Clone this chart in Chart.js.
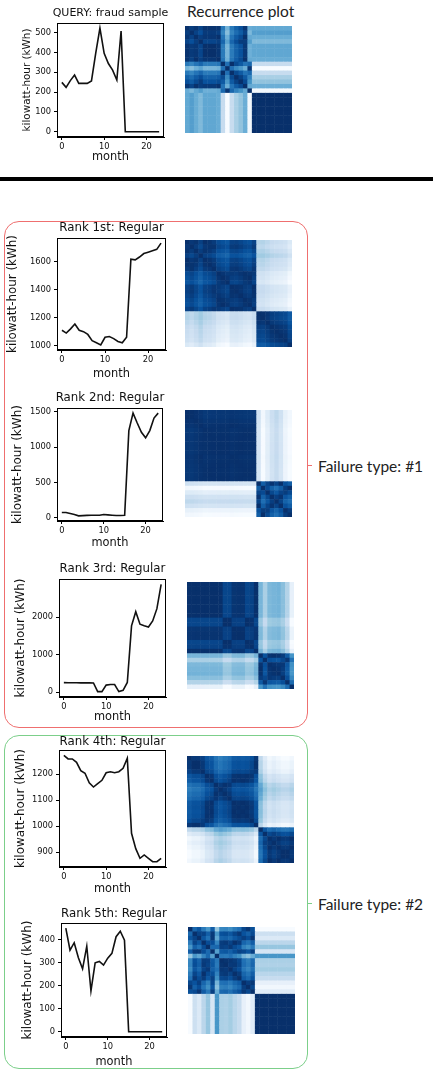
<!DOCTYPE html>
<html>
<head>
<meta charset="utf-8">
<script src="https://cdn.jsdelivr.net/npm/chart.js@4.4.0/dist/chart.umd.min.js"></script>
<style>
  body { margin: 0; background: #fff; width: 433px; height: 1070px; position: relative; overflow: hidden; }
  .abs { position: absolute; }
  canvas { display: block; }
  .rule { left: 0; top: 177px; width: 433px; height: 4px; background: #000; }
  .group { left: 4px; width: 302px; border: 1px solid; border-radius: 15px; }
  .label { font-family: "Lato"; font-size: 15.5px; color: #222; white-space: nowrap; line-height: 1; }
</style>
</head>
<body>
<div class="abs rule"></div>
<div class="abs group" style="top:221px;height:505px;border-color:#ef6f6f"></div>
<div class="abs group" style="top:735px;height:332px;border-color:#7ccf8a"></div>

<div class="abs label" style="left:187px;top:4px">Recurrence plot</div>
<div class="abs" style="left:307px;top:465px;width:5px;height:1px;background:#ef6f6f"></div>
<div class="abs label" style="left:318px;top:459px">Failure type: #1</div>
<div class="abs" style="left:307px;top:903px;width:5px;height:1px;background:#7ccf8a"></div>
<div class="abs label" style="left:318px;top:897px">Failure type: #2</div>

<div id="holder"></div>

<script>
// months on the x axis
const months = [0,1,2,3,4,5,6,7,8,9,10,11,12,13,14,15,16,17,18,19,20,21,22,23];
const monthTicks = [0, 10, 20];

// monthly consumption (kWh)
const querySample = [249,224,258,286,244,244,244,256,395,522,395,344,311,261,508,0,0,0,0,0,0,0,0,0];
const rank1 = [1110,1090,1120,1155,1110,1100,1080,1035,1020,1005,1060,1065,1050,1030,1020,1060,1620,1615,1635,1660,1670,1680,1690,1735];
const rank2 = [75,75,62,47,28,32,35,37,37,37,47,42,37,33,33,37,1234,1481,1341,1211,1132,1234,1411,1481];
const rank3 = [250,248,246,246,245,245,244,242,10,10,185,200,200,12,45,255,1770,2150,1815,1770,1740,1900,2230,2880];
const rank4 = [1272,1258,1258,1245,1213,1203,1166,1150,1163,1176,1205,1209,1205,1209,1222,1261,972,913,876,889,876,863,863,876];
const rank5 = [449,354,386,321,273,371,177,299,305,289,319,340,412,436,397,0,0,0,0,0,0,0,0,0];

// y tick labels of each panel
const queryTicks = [0, 100, 200, 300, 400, 500];
const rank1Ticks = [1000, 1200, 1400, 1600];
const rank2Ticks = [0, 500, 1000, 1500];
const rank3Ticks = [0, 1000, 2000];
const rank4Ticks = [900, 1000, 1100, 1200];
const rank5Ticks = [0, 100, 200, 300, 400];

const titles = ['QUERY: fraud sample', 'Rank 1st: Regular', 'Rank 2nd: Regular', 'Rank 3rd: Regular', 'Rank 4th: Regular', 'Rank 5th: Regular'];
const series = [querySample, rank1, rank2, rank3, rank4, rank5];
const yTicks = [queryTicks, rank1Ticks, rank2Ticks, rank3Ticks, rank4Ticks, rank5Ticks];

// layout of each panel: plot box, title gap, month gap, ylabel centre, font sizes
const panels = [
  {l: 57, t: 23,  r: 164, b: 137,  tg: 10, mg: 20, yx: 27, ts: 11,   ys: 10.4},
  {l: 57, t: 238, r: 166, b: 350,  tg: 10, mg: 24, yx: 13, ts: 11.8, ys: 11.9},
  {l: 57, t: 408, r: 163, b: 521,  tg: 10, mg: 22, yx: 18, ts: 11.8, ys: 12},
  {l: 59, t: 579, r: 166, b: 697,  tg: 10, mg: 20, yx: 21, ts: 11.8, ys: 12},
  {l: 59, t: 750, r: 166, b: 867,  tg: 8,  mg: 22, yx: 21, ts: 11.8, ys: 12},
  {l: 61, t: 923, r: 167, b: 1037, tg: 9,  mg: 25, yx: 28, ts: 11.8, ys: 12}
];
// recurrence plot squares: left, top, size
const rpBoxes = [[185,26,107],[185,240,107],[185,410,107],[187,582,107],[187,756,107],[188,927,107]];

Chart.defaults.font.family = 'DejaVu Sans';
Chart.defaults.color = '#111';

const frame = {
  id: 'frame',
  afterDatasetsDraw(chart) {
    const a = chart.chartArea, ctx = chart.ctx;
    ctx.save();
    ctx.strokeStyle = '#000';
    ctx.lineWidth = 1;
    ctx.strokeRect(Math.round(a.left) + 0.5, Math.round(a.top) + 0.5,
      Math.round(a.right - a.left) - 1, Math.round(a.bottom - a.top) - 1);
    ctx.restore();
  }
};

function addCanvas(left, top, w, h) {
  const c = document.createElement('canvas');
  c.className = 'abs';
  c.width = w; c.height = h;
  c.style.left = left + 'px'; c.style.top = top + 'px';
  c.style.width = w + 'px'; c.style.height = h + 'px';
  document.getElementById('holder').appendChild(c);
  return c;
}

function lineChart(k) {
  const g = panels[k], vals = series[k];
  const lo = Math.min(...vals), hi = Math.max(...vals), m = (hi - lo) * 0.05;
  const tLh = g.ts * 1.2, tPad = g.tg - tLh / 2;
  const xH = 34, mLh = 11.4 * 1.2;
  // an empty right axis as wide as the left one keeps the title centred on the plot box
  const w = g.r + g.l, h = 2 * g.tg + (g.b - g.t) + xH;
  const c = addCanvas(0, g.t - 2 * g.tg, w, h);
  const axisGrid = {display: true, drawOnChartArea: false, drawTicks: true, tickLength: 3, tickColor: '#000', tickWidth: 1};
  new Chart(c, {
    type: 'line',
    data: {datasets: [{data: months.map((x, i) => ({x: x, y: vals[i]})), borderColor: '#111', borderWidth: 1.6, pointRadius: 0, tension: 0}]},
    options: {
      responsive: false, animation: false, devicePixelRatio: 1, events: [],
      layout: {padding: 0},
      plugins: {
        legend: {display: false}, tooltip: {enabled: false},
        title: {display: true, text: titles[k], color: '#111', font: {size: g.ts, weight: 'normal', lineHeight: 1.2}, padding: {top: tPad, bottom: tPad}}
      },
      scales: {
        x: {
          type: 'linear', min: -1.15, max: 24.15,
          grid: axisGrid, border: {display: true, color: '#000', width: 1},
          ticks: {padding: 2, font: {size: 8.3}, maxRotation: 0, callback: v => String(v)},
          afterBuildTicks(s) { s.ticks = monthTicks.map(v => ({value: v})); },
          title: {display: true, text: 'month', color: '#111', font: {size: 11.4, lineHeight: 1.2}, padding: {top: 0, bottom: xH - g.mg - mLh / 2}},
          afterFit(s) { s.height = xH; }
        },
        y: {
          min: lo - m, max: hi + m,
          grid: axisGrid, border: {display: true, color: '#000', width: 1},
          ticks: {padding: 3, font: {size: 8.3}, callback: v => String(v)},
          afterBuildTicks(s) { s.ticks = yTicks[k].map(v => ({value: v})); },
          title: {display: true, text: 'kilowatt-hour (kWh)', color: '#111', font: {size: g.ys, lineHeight: 1.2}, padding: {top: g.yx - g.ys * 0.6, bottom: 0}},
          afterFit(s) { s.width = g.l; }
        },
        spacer: {
          type: 'linear', position: 'right', display: true,
          grid: {display: false}, border: {display: false}, ticks: {display: false},
          afterFit(s) { s.width = g.l; }
        }
      }
    },
    plugins: [frame]
  });
}

// matplotlib "Blues" reversed
const blues = ['#08306b','#08519c','#2171b5','#4292c6','#6baed6','#9ecae1','#c6dbef','#deebf7','#f7fbff'];
function hex(c) { return [1, 3, 5].map(i => parseInt(c.slice(i, i + 2), 16)); }
function bluesR(t) {
  const p = Math.min(Math.max(t, 0), 1) * (blues.length - 1);
  const i = Math.min(Math.floor(p), blues.length - 2), f = p - i;
  const a = hex(blues[i]), b = hex(blues[i + 1]);
  return 'rgb(' + a.map((v, j) => Math.round(v + (b[j] - v) * f)).join(',') + ')';
}

function recurrence(k) {
  const vals = series[k], n = vals.length;
  const dist = vals.map(a => vals.map(b => Math.abs(a - b)));
  const dmax = Math.max(...dist.map(r => Math.max(...r)));
  const [left, top, size] = rpBoxes[k];
  const c = addCanvas(left, top, size, size);
  new Chart(c, {
    type: 'scatter',
    data: {datasets: [{data: []}]},
    options: {
      responsive: false, animation: false, devicePixelRatio: 1, events: [],
      layout: {padding: 0},
      plugins: {legend: {display: false}, tooltip: {enabled: false}},
      scales: {
        x: {type: 'linear', min: -0.5, max: n - 0.5, display: false},
        y: {type: 'linear', min: -0.5, max: n - 0.5, reverse: true, display: false}
      }
    },
    plugins: [{
      id: 'cells',
      beforeDatasetsDraw(chart) {
        const sx = chart.scales.x, sy = chart.scales.y, ctx = chart.ctx;
        for (let i = 0; i < n; i++) {
          const y0 = sy.getPixelForValue(i - 0.5), y1 = sy.getPixelForValue(i + 0.5);
          for (let j = 0; j < n; j++) {
            const x0 = sx.getPixelForValue(j - 0.5), x1 = sx.getPixelForValue(j + 0.5);
            ctx.fillStyle = bluesR(dist[i][j] / dmax);
            ctx.fillRect(Math.min(x0, x1), Math.min(y0, y1), Math.abs(x1 - x0) + 0.5, Math.abs(y1 - y0) + 0.5);
          }
        }
      }
    }]
  });
}

for (let k = 0; k < series.length; k++) {
  recurrence(k);
  lineChart(k);
}
</script>
</body>
</html>
